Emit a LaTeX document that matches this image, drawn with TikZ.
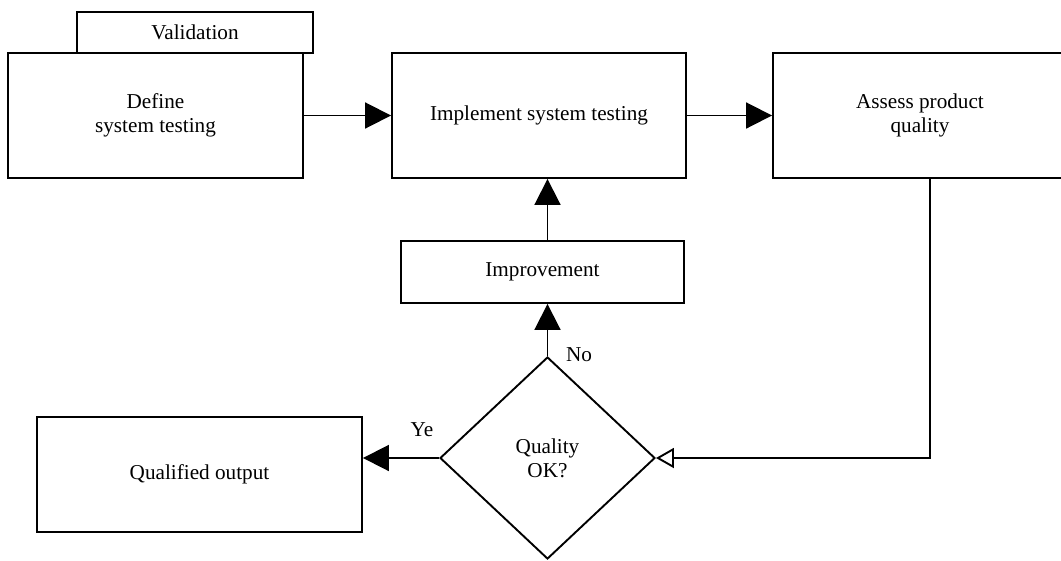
\documentclass[tikz,border=0pt]{standalone}
\usepackage{fontspec}
\setmainfont{Liberation Serif}
\usetikzlibrary{shapes.geometric,arrows.meta}
\begin{document}
\begin{tikzpicture}[x=1pt,y=-1pt,
  every node/.style={font=\fontsize{21.2}{24}\selectfont},
  box/.style={draw, fill=white, line width=1.9pt, inner sep=0pt, align=center},
  decision/.style={draw, diamond, line width=1.9pt, inner sep=0pt, align=center,
    minimum width=215pt, minimum height=202pt},
  link/.style={line width=1.9pt, -{Triangle[length=26pt,width=26pt]}},
  openlink/.style={line width=1.9pt, -{Triangle[open,length=18pt,width=20pt]}},
]
\clip (0,0) rectangle (1061,560);

% top row of process boxes
\node[box, minimum width=236pt, minimum height=41pt] (val) at (195,32.5) {Validation};
\node[box, minimum width=295pt, minimum height=125pt] (def) at (155.5,115.5) {Define\\system testing};
\node[box, minimum width=294pt, minimum height=125pt] (imp) at (539,115.5) {Implement system testing};
\node[box, minimum width=294pt, minimum height=125pt] (ass) at (920,115.5) {Assess product\\quality};

% feedback loop
\node[box, minimum width=283pt, minimum height=62pt] (impr) at (542.5,272) {Improvement};
\node[decision] (dia) at (547.5,458) {Quality\\OK?};
\node[box, minimum width=325pt, minimum height=115pt] (out) at (199.5,474.5) {Qualified output};

% connectors
\draw[link] (def) -- (imp);
\draw[link] (imp) -- (ass);
\draw[link] (impr.north -| dia.north) -- (imp.south -| dia.north);
\draw[link] (dia.north) -- (impr.south -| dia.north);
\draw[openlink] ([xshift=10pt]ass.south) |- (dia.east);
\draw[link] (dia.west) -- (dia.west -| out.east);

% branch labels
\node (no) at (579,355) {No};
\node (ye) at (422,430) {Ye};
\end{tikzpicture}
\end{document}
